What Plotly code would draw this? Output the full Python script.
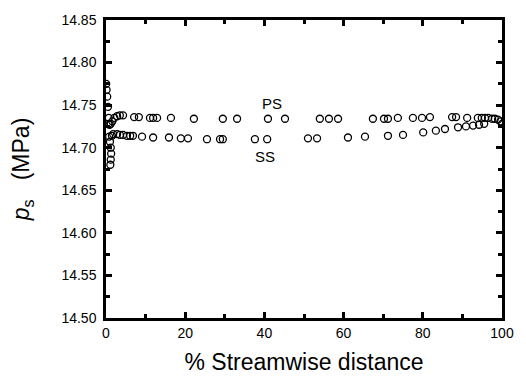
import plotly.graph_objects as go

ps_x = [0.05, 0.15, 0.3, 0.5, 0.7, 0.9, 1.2, 1.6, 2.1, 2.8, 3.5, 4.3, 7.1, 8.3, 11.1, 11.9, 12.9,
        16.4, 22.2, 29.5, 33.1, 40.9, 45.2, 54.0, 56.3, 58.6, 67.4, 70.2, 71.2, 73.7, 77.5,
        79.8, 81.8, 87.4, 88.4, 91.2, 93.9, 94.9, 95.7, 96.5, 97.5, 98.2, 99.0, 99.6, 100.0]
ps_y = [14.775, 14.768, 14.760, 14.748, 14.735, 14.727, 14.728, 14.731, 14.735, 14.737, 14.738,
        14.738, 14.736, 14.736, 14.735, 14.735, 14.735, 14.735, 14.734, 14.734, 14.734, 14.734,
        14.734, 14.734, 14.734, 14.734, 14.734, 14.734, 14.734, 14.735, 14.735, 14.735, 14.736,
        14.736, 14.736, 14.735, 14.735, 14.735, 14.735, 14.735, 14.734, 14.734, 14.733, 14.731,
        14.728]

ss_x = [0.6, 0.8, 1.0, 1.2, 1.3, 1.2, 1.1, 1.5, 1.8, 2.8, 3.5, 4.3, 5.3, 6.1, 6.8, 9.1, 11.9,
        15.9, 18.9, 20.7, 25.5, 28.8, 29.5, 37.6, 40.7, 51.0, 53.3, 61.1, 65.4, 71.2, 75.0,
        80.1, 83.3, 85.6, 88.9, 90.9, 92.7, 94.2, 95.5]
ss_y = [14.728, 14.713, 14.707, 14.700, 14.693, 14.686, 14.680, 14.714, 14.716, 14.716, 14.715,
        14.715, 14.714, 14.714, 14.714, 14.713, 14.712, 14.712, 14.711, 14.711, 14.710, 14.710,
        14.710, 14.710, 14.710, 14.711, 14.711, 14.712, 14.713, 14.714, 14.715, 14.718, 14.720,
        14.722, 14.724, 14.725, 14.726, 14.727, 14.728]

x_ticks = [0, 20, 40, 60, 80, 100]
y_ticks = [14.50, 14.55, 14.60, 14.65, 14.70, 14.75, 14.80, 14.85]

FONT = "Liberation Sans, Arial"
marker = dict(symbol="circle-open", size=7, color="black", line=dict(width=1.3, color="black"))

fig = go.Figure()
fig.add_trace(go.Scatter(x=ps_x, y=ps_y, mode="markers", marker=marker, name="PS"))
fig.add_trace(go.Scatter(x=ss_x, y=ss_y, mode="markers", marker=marker, name="SS"))

fig.add_annotation(x=41.9, y=14.752, text="PS", showarrow=False,
                   font=dict(family=FONT, size=15, color="black"))
fig.add_annotation(x=40.2, y=14.690, text="SS", showarrow=False,
                   font=dict(family=FONT, size=15, color="black"))

axis_common = dict(showgrid=False, zeroline=False, showline=True, linecolor="black", linewidth=2.5,
                   mirror="ticks", ticks="inside", ticklen=6, tickwidth=2.5, tickcolor="black",
                   tickfont=dict(family=FONT, size=14, color="black"))

fig.update_xaxes(range=[0, 100], tickvals=x_ticks, ticktext=[str(v) for v in x_ticks],
                 minor=dict(dtick=10, tick0=0, ticks="inside", ticklen=4, tickwidth=2.5, tickcolor="black"),
                 title=dict(text="% Streamwise distance", standoff=15,
                            font=dict(family=FONT, size=23, color="black")),
                 **axis_common)
fig.update_yaxes(range=[14.50, 14.85], tickvals=y_ticks, ticktext=[f"{v:.2f}" for v in y_ticks],
                 minor=dict(dtick=0.025, tick0=14.5, ticks="inside", ticklen=4, tickwidth=2.5, tickcolor="black"),
                 ticklabelstandoff=4,
                 title=dict(text="<i>p</i><sub>s</sub>   (MPa)", standoff=26,
                            font=dict(family=FONT, size=23, color="black")),
                 **axis_common)

fig.update_layout(width=526, height=384, margin=dict(l=106, r=24, t=16, b=63),
                  paper_bgcolor="white", plot_bgcolor="white", showlegend=False)

fig.write_html("out.html")
